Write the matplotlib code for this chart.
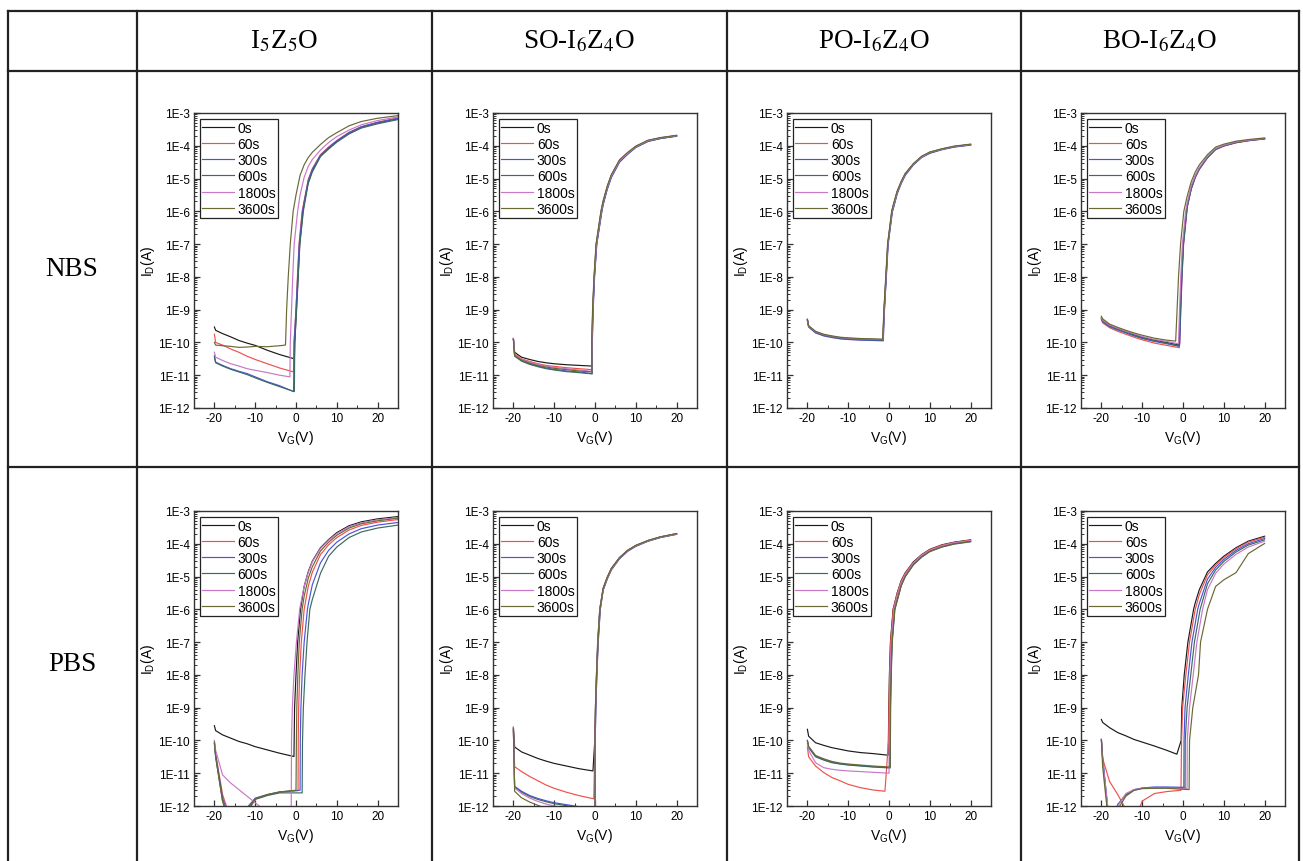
import numpy as np
import matplotlib
matplotlib.use('Agg')
import matplotlib.pyplot as plt
from matplotlib.lines import Line2D
from matplotlib.ticker import FixedLocator, FuncFormatter, MultipleLocator, LogLocator

plt.rcParams['font.family'] = ['Liberation Sans', 'DejaVu Sans']
plt.rcParams['mathtext.fontset'] = 'custom'
plt.rcParams['mathtext.rm'] = 'Liberation Sans'
plt.rcParams['mathtext.it'] = 'Liberation Sans:italic'
plt.rcParams['axes.unicode_minus'] = False

N = np.nan

# stress times and line colours
times = ['0s', '60s', '300s', '600s', '1800s', '3600s']
colors = ['#1a1a1a', '#f0504a', '#4a54d8', '#3a6a60', '#c878c8', '#6a6834']

materials = [r'I$_5$Z$_5$O', r'SO-I$_6$Z$_4$O', r'PO-I$_6$Z$_4$O', r'BO-I$_6$Z$_4$O']
stresses = ['NBS', 'PBS']

# shared grids: off-state gate voltages, steep-part current levels (log10 A),
# on-state gate voltages
off_v = [-20, -19.7, -18, -16, -14, -12, -10, -7, -4]
steep_log = [-10, -9, -8, -7, -6]
up_v = [0, 1, 2, 3, 4, 6, 8, 10, 13, 16, 20, 25]

# ---------------- NBS, I5Z5O ----------------
nbs_izo_off = [
    [-9.53, -9.63, -9.73, -9.83, -9.94, -10.02, -10.09, -10.24, -10.37],
    [-9.75, -10.0, -10.08, -10.2, -10.3, -10.42, -10.52, -10.65, -10.78],
    [-10.4, -10.6, -10.7, -10.8, -10.88, -10.95, -11.05, -11.2, -11.32],
    [-10.45, -10.62, -10.72, -10.82, -10.9, -10.98, -11.08, -11.22, -11.35],
    [-10.3, -10.45, -10.55, -10.65, -10.72, -10.8, -10.85, -10.92, -11.0],
    [-10.0, -10.08, -10.1, -10.12, -10.15, -10.14, -10.12, -10.13, -10.1]]
nbs_izo_von = [-0.4, -0.6, -0.6, -0.4, -1.5, -2.6]
nbs_izo_von_log = [-10.5, -10.9, -11.5, -11.5, -11.05, -10.08]
nbs_izo_steep = [
    [-0.3, 0.1, 0.5, 0.9, 1.7],
    [-0.5, 0.0, 0.35, 0.75, 1.5],
    [-0.45, 0.0, 0.4, 0.8, 1.6],
    [-0.3, 0.15, 0.55, 0.95, 1.8],
    [-1.4, -1.1, -0.8, -0.45, 0.4],
    [-2.55, -2.3, -1.9, -1.4, -0.7]]
nbs_izo_up = [
    [N, N, -5.75, -5.1, -4.75, -4.3, -4.07, -3.86, -3.61, -3.43, -3.3, -3.17],
    [N, N, -5.68, -5.03, -4.7, -4.27, -4.04, -3.84, -3.59, -3.42, -3.28, -3.15],
    [N, N, -5.72, -5.07, -4.72, -4.29, -4.05, -3.85, -3.6, -3.42, -3.29, -3.16],
    [N, N, -5.85, -5.15, -4.8, -4.33, -4.1, -3.89, -3.64, -3.46, -3.33, -3.2],
    [N, -5.5, -4.96, -4.63, -4.42, -4.13, -3.9, -3.72, -3.52, -3.36, -3.23, -3.12],
    [-5.5, -4.9, -4.58, -4.36, -4.2, -3.96, -3.75, -3.6, -3.39, -3.26, -3.16, -3.08]]

# ---------------- NBS, SO-I6Z4O ----------------
nbs_so_off = [
    [-9.88, -10.3, -10.45, -10.52, -10.58, -10.62, -10.65, -10.68, -10.7],
    [-9.88, -10.35, -10.5, -10.58, -10.65, -10.7, -10.73, -10.77, -10.8],
    [-9.9, -10.4, -10.55, -10.65, -10.72, -10.78, -10.82, -10.87, -10.9],
    [-9.9, -10.42, -10.57, -10.67, -10.74, -10.8, -10.84, -10.89, -10.92],
    [-9.88, -10.38, -10.52, -10.6, -10.67, -10.72, -10.76, -10.8, -10.84],
    [-9.9, -10.4, -10.54, -10.63, -10.7, -10.75, -10.79, -10.83, -10.87]]
nbs_so_von = [-0.8, -0.8, -0.7, -0.7, -0.8, -0.8]
nbs_so_von_log = [-10.72, -10.83, -10.95, -10.96, -10.88, -10.9]
nbs_so_steep = [
    [-0.75, -0.55, -0.2, 0.3, 1.5],
    [-0.7, -0.5, -0.15, 0.4, 1.6],
    [-0.65, -0.45, -0.1, 0.45, 1.7],
    [-0.7, -0.5, -0.15, 0.4, 1.65],
    [-0.75, -0.55, -0.2, 0.35, 1.55],
    [-0.8, -0.6, -0.25, 0.25, 1.45]]
nbs_so_up = [
    [N, N, -5.7, -5.25, -4.9, -4.45, -4.22, -4.02, -3.84, -3.76, -3.69],
    [N, N, -5.75, -5.3, -4.94, -4.48, -4.24, -4.04, -3.86, -3.77, -3.7],
    [N, N, -5.8, -5.33, -4.97, -4.5, -4.26, -4.05, -3.87, -3.78, -3.71],
    [N, N, -5.78, -5.31, -4.95, -4.49, -4.25, -4.05, -3.86, -3.78, -3.7],
    [N, N, -5.72, -5.27, -4.92, -4.46, -4.23, -4.03, -3.85, -3.76, -3.69],
    [N, N, -5.68, -5.23, -4.88, -4.43, -4.2, -4.01, -3.83, -3.75, -3.68]]

# ---------------- NBS, PO-I6Z4O ----------------
nbs_po_off = [
    [-9.3, -9.5, -9.68, -9.77, -9.82, -9.86, -9.88, -9.9, -9.91],
    [-9.32, -9.52, -9.7, -9.79, -9.84, -9.88, -9.9, -9.92, -9.93],
    [-9.33, -9.53, -9.71, -9.8, -9.85, -9.89, -9.91, -9.93, -9.94],
    [-9.31, -9.51, -9.69, -9.78, -9.83, -9.87, -9.89, -9.91, -9.92],
    [-9.3, -9.5, -9.67, -9.76, -9.81, -9.85, -9.87, -9.89, -9.9],
    [-9.29, -9.49, -9.66, -9.75, -9.8, -9.84, -9.86, -9.88, -9.89]]
nbs_po_von = [-1.5, -1.5, -1.4, -1.45, -1.5, -1.55]
nbs_po_von_log = [-9.92, -9.94, -9.95, -9.93, -9.91, -9.9]
nbs_po_steep = [
    [-1.3, -1.2, -0.75, -0.3, 0.7],
    [-1.3, -1.15, -0.7, -0.25, 0.75],
    [-1.2, -1.1, -0.65, -0.2, 0.85],
    [-1.25, -1.15, -0.7, -0.25, 0.8],
    [-1.3, -1.2, -0.75, -0.3, 0.72],
    [-1.35, -1.25, -0.8, -0.35, 0.65]]
nbs_po_up = [
    [N, -5.85, -5.4, -5.1, -4.85, -4.55, -4.33, -4.2, -4.1, -4.02, -3.96],
    [N, -5.9, -5.43, -5.12, -4.87, -4.56, -4.34, -4.21, -4.1, -4.03, -3.97],
    [N, -5.95, -5.47, -5.15, -4.9, -4.58, -4.36, -4.23, -4.12, -4.04, -3.98],
    [N, -5.92, -5.45, -5.13, -4.88, -4.57, -4.35, -4.22, -4.11, -4.03, -3.97],
    [N, -5.88, -5.42, -5.11, -4.86, -4.55, -4.34, -4.2, -4.1, -4.02, -3.96],
    [N, -5.82, -5.38, -5.08, -4.84, -4.54, -4.32, -4.19, -4.09, -4.01, -3.95]]

# ---------------- NBS, BO-I6Z4O ----------------
nbs_bo_off = [
    [-9.25, -9.33, -9.48, -9.58, -9.67, -9.76, -9.84, -9.93, -10.0],
    [-9.3, -9.4, -9.55, -9.66, -9.75, -9.84, -9.92, -10.02, -10.09],
    [-9.28, -9.37, -9.52, -9.62, -9.71, -9.8, -9.88, -9.97, -10.04],
    [-9.27, -9.35, -9.5, -9.6, -9.69, -9.78, -9.86, -9.95, -10.02],
    [-9.24, -9.32, -9.47, -9.57, -9.66, -9.74, -9.82, -9.91, -9.97],
    [-9.2, -9.28, -9.44, -9.54, -9.63, -9.71, -9.78, -9.87, -9.93]]
nbs_bo_von = [-1.0, -0.9, -0.9, -1.0, -1.2, -1.8]
nbs_bo_von_log = [-10.08, -10.16, -10.12, -10.1, -10.04, -9.96]
nbs_bo_steep = [
    [-0.9, -0.65, -0.35, 0.05, 0.85],
    [-0.8, -0.55, -0.25, 0.15, 0.95],
    [-0.8, -0.55, -0.25, 0.12, 0.92],
    [-0.9, -0.62, -0.32, 0.08, 0.88],
    [-1.1, -0.85, -0.55, -0.15, 0.65],
    [-1.7, -1.45, -1.1, -0.6, 0.2]]
nbs_bo_up = [
    [N, -5.85, -5.3, -4.95, -4.7, -4.35, -4.1, -4.0, -3.9, -3.84, -3.78],
    [N, -5.9, -5.33, -4.97, -4.72, -4.37, -4.12, -4.01, -3.91, -3.85, -3.79],
    [N, -5.88, -5.32, -4.96, -4.71, -4.36, -4.11, -4.0, -3.9, -3.84, -3.79],
    [N, -5.86, -5.31, -4.95, -4.7, -4.35, -4.1, -4.0, -3.9, -3.84, -3.78],
    [N, -5.75, -5.22, -4.9, -4.66, -4.32, -4.08, -3.98, -3.88, -3.83, -3.77],
    [N, -5.55, -5.1, -4.8, -4.58, -4.27, -4.04, -3.95, -3.86, -3.81, -3.76]]

# ---------------- PBS, I5Z5O ----------------
pbs_izo_off = [
    [-9.55, -9.7, -9.83, -9.93, -10.03, -10.1, -10.19, -10.29, -10.39],
    [-10.05, -10.4, -11.65, -12.4, -12.8, -12.1, -11.78, -11.66, -11.58],
    [-10.1, -10.45, -11.75, -12.5, -12.9, -12.05, -11.76, -11.65, -11.57],
    [-10.1, -10.5, -11.85, -12.6, -13.0, -12.2, -11.8, -11.68, -11.6],
    [-10.0, -10.3, -11.05, -11.3, -11.5, -11.7, -11.9, -12.2, -12.7],
    [-10.05, -10.5, -11.85, -12.6, -13.0, -12.1, -11.78, -11.65, -11.57]]
pbs_izo_von = [-0.5, 0.5, 1.0, 1.5, -1.2, 0.0]
pbs_izo_von_log = [-10.49, -11.53, -11.52, -11.6, -13.0, -11.52]
pbs_izo_steep = [
    [-0.45, -0.35, 0.0, 0.4, 1.1],
    [0.55, 0.65, 0.9, 1.3, 2.0],
    [1.05, 1.2, 1.5, 2.0, 2.8],
    [1.6, 1.8, 2.2, 2.7, 3.4],
    [-1.1, -0.9, -0.5, 0.1, 0.9],
    [0.1, 0.2, 0.45, 0.8, 1.5]]
pbs_izo_up = [
    [N, N, -5.3, -4.85, -4.53, -4.12, -3.87, -3.66, -3.45, -3.33, -3.24, -3.17],
    [N, N, N, -5.3, -4.87, -4.33, -4.03, -3.81, -3.58, -3.44, -3.34, -3.26],
    [N, N, N, -5.85, -5.25, -4.58, -4.2, -3.95, -3.7, -3.54, -3.43, -3.35],
    [N, N, N, N, -5.7, -4.9, -4.38, -4.1, -3.81, -3.64, -3.52, -3.43],
    [N, -5.93, -5.3, -4.87, -4.55, -4.14, -3.89, -3.69, -3.48, -3.36, -3.27, -3.2],
    [N, N, -5.6, -5.05, -4.7, -4.22, -3.95, -3.74, -3.52, -3.39, -3.3, -3.22]]

# ---------------- PBS, SO-I6Z4O ----------------
pbs_so_off = [
    [-9.6, -10.2, -10.35, -10.45, -10.55, -10.63, -10.7, -10.78, -10.86],
    [-9.6, -10.8, -10.95, -11.1, -11.23, -11.36, -11.46, -11.58, -11.68],
    [-9.65, -11.4, -11.55, -11.68, -11.77, -11.84, -11.9, -11.96, -12.02],
    [-9.65, -11.42, -11.58, -11.71, -11.8, -11.87, -11.93, -11.99, -12.06],
    [-9.7, -11.45, -11.62, -11.76, -11.86, -11.94, -12.0, -12.08, -12.2],
    [-9.7, -11.55, -11.75, -11.88, -11.98, -12.08, -12.2, -12.4, -12.6]]
pbs_so_von = [-0.5, -0.3, 0.0, 0.0, 0.0, 0.0]
pbs_so_von_log = [-10.93, -11.78, -12.3, -12.3, -12.4, -12.6]
pbs_so_steep = [
    [-0.05, 0.1, 0.35, 0.65, 1.15],
    [0.0, 0.15, 0.4, 0.7, 1.2],
    [0.05, 0.2, 0.45, 0.8, 1.3],
    [0.05, 0.2, 0.45, 0.75, 1.28],
    [0.0, 0.15, 0.4, 0.72, 1.22],
    [0.0, 0.12, 0.38, 0.7, 1.2]]
pbs_so_up = [
    [N, N, -5.35, -5.02, -4.75, -4.42, -4.2, -4.05, -3.9, -3.79, -3.69],
    [N, N, -5.38, -5.04, -4.77, -4.43, -4.21, -4.06, -3.91, -3.8, -3.7],
    [N, N, -5.42, -5.08, -4.8, -4.46, -4.23, -4.08, -3.92, -3.81, -3.71],
    [N, N, -5.4, -5.06, -4.79, -4.45, -4.22, -4.07, -3.92, -3.81, -3.71],
    [N, N, -5.39, -5.05, -4.78, -4.44, -4.21, -4.06, -3.91, -3.8, -3.7],
    [N, N, -5.37, -5.03, -4.76, -4.43, -4.2, -4.05, -3.9, -3.79, -3.69]]

# ---------------- PBS, PO-I6Z4O ----------------
pbs_po_off = [
    [-9.66, -9.87, -10.07, -10.15, -10.22, -10.27, -10.32, -10.37, -10.4],
    [-10.2, -10.5, -10.78, -10.98, -11.13, -11.23, -11.34, -11.44, -11.51],
    [-10.0, -10.2, -10.48, -10.58, -10.66, -10.71, -10.74, -10.77, -10.8],
    [-10.02, -10.22, -10.5, -10.6, -10.68, -10.72, -10.75, -10.78, -10.81],
    [-10.1, -10.3, -10.68, -10.83, -10.88, -10.91, -10.93, -10.95, -10.97],
    [-10.0, -10.18, -10.46, -10.56, -10.64, -10.69, -10.72, -10.75, -10.78]]
pbs_po_von = [-0.2, -1.0, 0.2, 0.3, 0.0, 0.25]
pbs_po_von_log = [-10.45, -11.55, -10.83, -10.84, -11.0, -10.81]
pbs_po_steep = [
    [-0.15, -0.05, 0.1, 0.35, 1.0],
    [-0.1, 0.0, 0.15, 0.4, 1.05],
    [0.25, 0.3, 0.45, 0.7, 1.35],
    [0.35, 0.4, 0.55, 0.8, 1.45],
    [0.05, 0.15, 0.3, 0.55, 1.2],
    [0.3, 0.35, 0.5, 0.75, 1.4]]
pbs_po_up = [
    [N, N, -5.5, -5.12, -4.88, -4.55, -4.33, -4.17, -4.03, -3.95, -3.88],
    [N, N, -5.52, -5.14, -4.9, -4.57, -4.34, -4.18, -4.04, -3.96, -3.89],
    [N, N, -5.7, -5.25, -4.97, -4.62, -4.39, -4.22, -4.08, -3.99, -3.92],
    [N, N, -5.75, -5.28, -5.0, -4.64, -4.41, -4.24, -4.1, -4.01, -3.94],
    [N, N, -5.6, -5.18, -4.93, -4.59, -4.36, -4.2, -4.06, -3.97, -3.9],
    [N, N, -5.72, -5.27, -4.99, -4.63, -4.4, -4.23, -4.09, -4.0, -3.93]]

# ---------------- PBS, BO-I6Z4O ----------------
pbs_bo_off = [
    [-9.36, -9.45, -9.61, -9.76, -9.86, -9.97, -10.05, -10.17, -10.3],
    [-10.0, -10.55, -11.25, -11.65, -12.1, -12.5, -11.85, -11.62, -11.56],
    [-9.97, -10.5, -12.6, -11.95, -11.65, -11.5, -11.45, -11.42, -11.42],
    [-9.97, -10.55, -12.7, -11.98, -11.66, -11.52, -11.46, -11.44, -11.44],
    [-10.0, -10.6, -12.5, -12.0, -11.62, -11.5, -11.46, -11.45, -11.45],
    [-9.97, -10.8, -12.8, -12.1, -11.7, -11.52, -11.47, -11.46, -11.46]]
pbs_bo_von = [-1.5, -0.5, 0.2, 0.5, 1.0, 1.5]
pbs_bo_von_log = [-10.42, -11.52, -11.43, -11.45, -11.47, -11.5]
pbs_bo_steep = [
    [-0.45, -0.3, 0.3, 1.2, 2.6],
    [-0.35, -0.1, 0.7, 1.6, 3.0],
    [0.25, 0.5, 1.3, 2.2, 3.6],
    [0.55, 1.0, 1.9, 2.8, 4.2],
    [1.05, 1.6, 2.5, 3.4, 4.8],
    [1.6, 2.4, 3.8, 4.3, 6.0]]
pbs_bo_up = [
    [N, N, N, -5.8, -5.4, -4.86, -4.6, -4.38, -4.12, -3.92, -3.77],
    [N, N, N, N, -5.55, -4.95, -4.65, -4.42, -4.15, -3.95, -3.8],
    [N, N, N, N, -5.82, -5.08, -4.72, -4.48, -4.2, -4.0, -3.84],
    [N, N, N, N, N, -5.22, -4.8, -4.54, -4.25, -4.04, -3.88],
    [N, N, N, N, N, -5.4, -4.9, -4.62, -4.32, -4.1, -3.92],
    [N, N, N, N, N, N, -5.3, -5.1, -4.88, -4.3, -3.99]]

panels = [
    [(nbs_izo_off, nbs_izo_von, nbs_izo_von_log, nbs_izo_steep, nbs_izo_up),
     (nbs_so_off, nbs_so_von, nbs_so_von_log, nbs_so_steep, nbs_so_up),
     (nbs_po_off, nbs_po_von, nbs_po_von_log, nbs_po_steep, nbs_po_up),
     (nbs_bo_off, nbs_bo_von, nbs_bo_von_log, nbs_bo_steep, nbs_bo_up)],
    [(pbs_izo_off, pbs_izo_von, pbs_izo_von_log, pbs_izo_steep, pbs_izo_up),
     (pbs_so_off, pbs_so_von, pbs_so_von_log, pbs_so_steep, pbs_so_up),
     (pbs_po_off, pbs_po_von, pbs_po_von_log, pbs_po_steep, pbs_po_up),
     (pbs_bo_off, pbs_bo_von, pbs_bo_von_log, pbs_bo_steep, pbs_bo_up)]]


def build_curve(off, von, von_log, steep, up):
    # joins the read points: off branch, turn-on, steep rise, on branch
    v = list(off_v) + [von]
    lg = list(off) + [von_log]
    for lv, vv in zip(steep_log, steep):
        if lv > von_log:
            v.append(vv)
            lg.append(lv)
    v_top = steep[-1]
    for vv, lv in zip(up_v, up):
        if np.isfinite(lv) and vv > v_top:
            v.append(vv)
            lg.append(lv)
    return np.array(v), 10.0 ** np.array(lg)


W, H = 1303, 862
fig = plt.figure(figsize=(W / 100, H / 100), dpi=100)

# table grid
def px_line(x0, y0, x1, y1):
    fig.add_artist(Line2D([x0 / W, x1 / W], [1 - y0 / H, 1 - y1 / H],
                          color='#222222', lw=1.6, transform=fig.transFigure))

col_x = [8, 137, 432, 727, 1021, 1299]
for x in col_x:
    px_line(x, 12, x, 862)
for y in [12, 72, 468]:
    px_line(8, y, 1299, y)

for j, name in enumerate(materials):
    xc = (col_x[j + 1] + col_x[j + 2]) / 2
    fig.text(xc / W, 1 - 42 / H, name, ha='center', va='center', fontsize=19.5,
             family='Liberation Serif', math_fontfamily='stix')
for i, name in enumerate(stresses):
    yc = [270, 665][i]
    fig.text(72 / W, 1 - yc / H, name, ha='center', va='center', fontsize=19.5,
             family='Liberation Serif')

ax_left = [194, 493, 787, 1081]
ax_top = [114, 512]
ax_w, ax_h = 204, 295

yt = [10.0 ** k for k in range(-12, -2)]
for i in range(2):
    for j in range(4):
        ax = fig.add_axes([ax_left[j] / W, 1 - (ax_top[i] + ax_h) / H, ax_w / W, ax_h / H])
        off, von, von_log, steep, up = panels[i][j]
        for k in range(6):
            v, cur = build_curve(off[k], von[k], von_log[k], steep[k], up[k])
            ax.plot(v, cur, color=colors[k], lw=0.85, label=times[k])
        ax.set_yscale('log')
        ax.set_xlim(-25, 25)
        ax.set_ylim(1e-12, 1e-3)
        ax.yaxis.set_major_locator(FixedLocator(yt))
        ax.yaxis.set_major_formatter(FuncFormatter(lambda val, pos: '1E%d' % round(np.log10(val))))
        ax.yaxis.set_minor_locator(LogLocator(base=10, subs=np.arange(2, 10), numticks=30))
        ax.xaxis.set_major_locator(FixedLocator([-20, -10, 0, 10, 20]))
        ax.xaxis.set_minor_locator(MultipleLocator(5))
        ax.tick_params(which='both', direction='in', top=False, right=False,
                       labelsize=8.5, pad=3, color='#333333')
        ax.tick_params(which='major', length=4, width=0.9)
        ax.tick_params(which='minor', length=2, width=0.7)
        for s in ax.spines.values():
            s.set_linewidth(1.0)
            s.set_color('#333333')
        ax.set_xlabel(r'V$_{\rm G}$(V)', fontsize=10, labelpad=3)
        ax.set_ylabel(r'I$_{\rm D}$(A)', fontsize=10, labelpad=1)
        leg = ax.legend(loc='upper left', fontsize=10, frameon=True, fancybox=False,
                        framealpha=1, edgecolor='#222222', borderaxespad=0.4,
                        borderpad=0.15, labelspacing=0.16, handlelength=2.3,
                        handletextpad=0.3)
        leg.get_frame().set_linewidth(0.9)

fig.savefig('out.png', dpi=100)
